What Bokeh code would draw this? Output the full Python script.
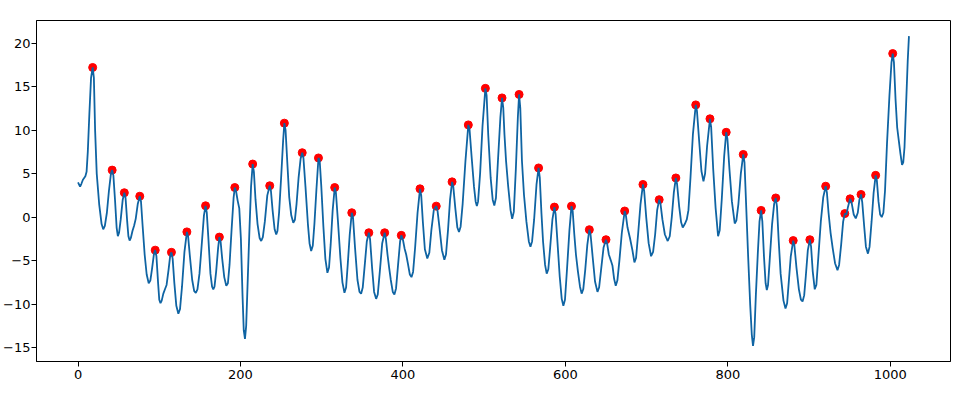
from bokeh.plotting import figure
from bokeh.models import FixedTicker, Range1d
from bokeh.embed import file_html
from bokeh.resources import INLINE

# signal samples (index, value)
sig_x = [0, 1, 2.5, 4, 6, 9, 10.5, 12, 14, 16, 18, 19.5, 21, 23, 26, 29, 31, 33, 35.5, 38, 40.5, 42,
         43.5, 45.5, 47.5, 49, 50.5, 52.5, 55, 57, 58.5, 60.5, 62, 63.5, 65, 67, 69, 71, 73.5, 76,
         77.5, 79.5, 82, 84.5, 87, 89, 91, 93.5, 95, 96.5, 98.5, 100, 101.5, 103, 105, 107, 109,
         111.5, 113.5, 115, 116.5, 118.5, 121, 123.5, 125.5, 128, 131, 134, 135.5, 137.5, 140.5,
         143, 145, 147, 149.5, 152, 155, 157, 158.5, 160.5, 163, 165, 166.5, 168, 170, 172.5, 174,
         175.5, 177.5, 180, 182.5, 184.5, 186.5, 189, 191.5, 193, 194.5, 196.5, 198.5, 200.5, 202.5,
         204, 205.5, 207, 209, 211, 213, 215, 216.5, 218.5, 221, 223.5, 225.5, 227.5, 230, 233, 236,
         237.5, 239.5, 242, 244, 245.5, 247.5, 250, 252.5, 254, 255.5, 257.5, 260, 262.5, 265, 267,
         269, 271.5, 274, 276, 277.5, 280, 283, 285, 287, 289, 291, 293.5, 296, 297.5, 299.5, 302,
         304.5, 307, 309, 311, 313.5, 316, 317.5, 320, 323, 325.5, 328, 330, 332, 334.5, 337, 338.5,
         341, 344, 346.5, 348.5, 350.5, 353, 355.5, 358, 359.5, 362, 364.5, 367, 369, 371.5, 374.5,
         377.5, 379, 381, 383, 385, 387.5, 389.5, 391.5, 394, 396.5, 398, 400, 402, 404, 406, 408.5,
         410.5, 412.5, 415, 418, 421, 422.5, 424.5, 427, 430, 432.5, 435, 438, 441, 442.5, 445, 448,
         451, 453, 455.5, 458, 460.5, 462, 464.5, 467, 469, 471, 473.5, 477, 480.5, 482, 484.5,
         487.5, 489.5, 491, 492.5, 495, 498, 501.5, 503, 505, 508, 510.5, 512.5, 514.5, 517, 520,
         522, 523.5, 525, 527, 529.5, 532.5, 534.5, 536.5, 539, 541.5, 543, 544.5, 546.5, 549, 552,
         555, 557, 559, 561.5, 564.5, 567, 568.5, 570.5, 572.5, 575, 577, 579, 581, 584, 586.5, 588,
         590, 593, 595.5, 597.5, 599.5, 602, 605, 607.5, 609, 611, 613, 615.5, 618, 620, 622, 624.5,
         627, 629.5, 631, 633.5, 636.5, 639.5, 641.5, 644, 647, 650, 651.5, 653.5, 656, 658, 660,
         662, 664, 666.5, 669.5, 673, 674.5, 676.5, 679.5, 682.5, 685, 687, 689.5, 692.5, 695.5, 697,
         699.5, 702.5, 705.5, 708, 710.5, 713, 715.5, 717, 719.5, 722.5, 726, 728.5, 731, 733.5, 736,
         737.5, 740, 742.5, 744.5, 747, 749.5, 751.5, 754, 757, 760.5, 762, 764.5, 767.5, 770, 772,
         774.5, 778, 779.5, 782, 785, 788, 790, 792.5, 795.5, 798, 799.5, 802, 805, 808.5, 810.5,
         813, 816, 819, 820.5, 822.5, 825, 827.5, 829.5, 831, 832.5, 834.5, 837, 839, 841, 842.5,
         844.5, 846.5, 848, 849.5, 851.5, 854.5, 857, 859, 860.5, 862.5, 865, 868.5, 871, 873, 875,
         877.5, 880.5, 882, 884.5, 887.5, 890, 892, 894, 896, 898.5, 901, 902.5, 904.5, 907, 909,
         911.5, 914.5, 917.5, 920.5, 922, 924, 926.5, 929, 932, 935, 937, 939.5, 942, 944, 946, 948,
         950.5, 952.5, 955, 957.5, 960, 962, 964, 965.5, 968, 970, 972.5, 974.5, 977, 979.5, 982,
         983.5, 985.5, 987.5, 989.5, 991.5, 993.5, 996, 999, 1001.5, 1003, 1004.5, 1006.5, 1008.5,
         1010.5, 1012.5, 1014.5, 1016, 1017.5, 1019.5, 1021.5, 1023]
sig_y = [4.0, 3.8, 3.5, 3.8, 4.3, 4.7, 5.2, 7.5, 12, 16, 17.2, 16, 10, 5, 1.5, -0.8, -1.4, -1.0, 0.5,
         3, 5, 5.4, 4.8, 2, -1.2, -2.2, -1.8, -0.3, 2, 2.8, 2.2, -0.5, -2.2, -2.7, -2.4, -1.6, -1.0,
         -0.2, 1.5, 2.4, 1.8, -1, -4.3, -6.6, -7.6, -7.3, -6, -4.2, -3.8, -4.5, -7.5, -9.5, -9.9,
         -9.6, -8.8, -8.3, -7.8, -6, -4.4, -4.05, -4.8, -7.5, -10.2, -11.1, -10.6, -8, -4, -1.7,
         -2.2, -4.3, -7.2, -8.5, -8.7, -8.3, -6.5, -3.5, 0.2, 1.3, 0.5, -2.5, -6.5, -8, -8.3, -8,
         -6.3, -3.5, -2.3, -2.8, -4.8, -6.9, -7.9, -7.6, -5.5, -1.5, 2.2, 3.4, 3.0, 1.9, 1.0, -2.5,
         -9, -13, -14.0, -12.5, -7, -1.5, 3.5, 6.1, 5.2, 2, -0.8, -2.4, -2.75, -2.3, -0.5, 2.5, 3.6,
         3, 0.8, -1.4, -2.0, -1.6, 0.5, 4.5, 8.8, 10.8, 10.0, 6.5, 2.3, 0.2, -0.65, -0.3, 1.5, 4.5,
         6.7, 7.4, 6.8, 3.5, -0.8, -3.0, -3.9, -3.3, -0.8, 3.2, 6.8, 6.5, 3.5, -1, -4.8, -6.4, -5.8,
         -3.2, 0.8, 3.4, 2.8, -0.5, -4.7, -7.5, -8.7, -8.1, -5.5, -2, 0.5, 0, -3.5, -7.2, -8.6, -8.8,
         -8.1, -5.5, -2.8, -1.8, -2.5, -5.8, -8.6, -9.4, -8.9, -6.3, -3, -1.8, -2.5, -4.3, -5.8,
         -7.2, -8.6, -8.9, -8.2, -5.5, -2.8, -2.1, -2.6, -3.6, -4.3, -5.3, -6.6, -6.9, -6.3, -3.5,
         0.5, 3.25, 2.5, -0.5, -3.7, -4.75, -4.1, -1.5, 0.8, 1.26, 0.8, -1.2, -3.8, -4.9, -4.3, -1.5,
         2, 4.05, 3.5, 1, -1.2, -1.7, -1.1, 1.5, 6.5, 10.6, 10.1, 7, 3.5, 1.8, 1.26, 1.8, 5, 10.5,
         14.8, 14.0, 9.5, 4.5, 2.0, 1.34, 2.2, 6.5, 11.5, 13.7, 12.6, 9.5, 6.4, 3.6, 0.8, -0.2, 0.6,
         5.5, 11.5, 14.1, 12.5, 6.5, 2.6, -0.5, -2.8, -3.4, -2.8, -0.3, 3.8, 5.65, 4.5, 0.5, -2.8,
         -5.5, -6.5, -6.0, -3.8, -0.3, 1.15, 0.3, -2.5, -6.8, -9.4, -10.2, -9.5, -6, -1.5, 1.26, 0.7,
         -2.0, -4.3, -6.3, -8.0, -8.8, -8.3, -6, -3.2, -1.45, -2.0, -4.5, -7.4, -8.6, -8.1, -6, -3.5,
         -2.6, -3.1, -4.3, -5.0, -5.6, -7.1, -7.9, -7.3, -5, -1.8, 0.7, 0.2, -1.2, -2.4, -3.8, -5.2,
         -4.7, -2, 1.5, 3.75, 3.0, 0, -3.0, -4.5, -4.0, -2, 0.8, 2.0, 1.6, -0.3, -2.0, -2.75, -2.2,
         0, 2.8, 4.5, 3.8, 1.3, -0.6, -1.2, -0.8, -0.27, 0.8, 4.5, 9.5, 12.9, 12.2, 9.0, 5.3, 4.1,
         5.0, 8.2, 11.3, 10.3, 5.5, 1.0, -2.2, -1.5, 2, 7, 9.75, 9.0, 5.5, 1.8, -0.73, -0.4, 1.5, 5,
         7.2, 6.3, 1.5, -4.5, -10, -13.5, -14.8, -13.8, -9, -4, -0.5, 0.77, -0.5, -4.5, -7.6, -8.4,
         -7.8, -5, -0.8, 1.5, 2.2, 1.2, -2.5, -6.5, -9.6, -10.5, -9.9, -7.5, -4.5, -2.7, -3.3, -5.8,
         -8.3, -9.5, -9.7, -9.0, -6.8, -3.8, -2.6, -3.4, -6.2, -8.3, -7.8, -4.5, -0.5, 2.3, 3.55,
         2.8, 0.5, -1.8, -3.5, -5.3, -6.1, -5.5, -3.2, -0.5, 0.4, 0.3, 1.2, 2.1, 1.6, 0.3, -0.15,
         0.5, 2.0, 2.6, 1.7, -1.2, -3.4, -4.2, -3.4, -0.5, 2.8, 4.8, 4.2, 1.8, 0.3, 0.0, 0.5, 3, 8.5,
         14, 17.8, 18.8, 17.8, 13.5, 10.3, 8.8, 7.3, 6.0, 6.3, 8, 13, 18, 20.8]

# detected peaks
peak_x = [18, 42, 57, 76, 95, 115, 134, 157, 174, 193, 215, 236, 254, 276, 296, 316, 337, 358,
          377.5, 398, 421, 441, 460.5, 480.5, 501.5, 522, 543, 567, 586.5, 607.5, 629.5, 650, 673,
          695.5, 715.5, 736, 760.5, 778, 798, 819, 841, 859, 880.5, 901, 920.5, 944, 950.5, 964,
          982, 1003]
peak_y = [17.2, 5.4, 2.8, 2.4, -3.8, -4.05, -1.7, 1.3, -2.3, 3.4, 6.1, 3.6, 10.8, 7.4, 6.8, 3.4,
          0.5, -1.8, -1.8, -2.1, 3.25, 1.26, 4.05, 10.6, 14.8, 13.7, 14.1, 5.65, 1.15, 1.26, -1.45,
          -2.6, 0.7, 3.75, 2.0, 4.5, 12.9, 11.3, 9.75, 7.2, 0.77, 2.2, -2.7, -2.6, 3.55, 0.4, 2.1,
          2.6, 4.8, 18.8]

x_ticks = [0, 200, 400, 600, 800, 1000]
y_ticks = [-15, -10, -5, 0, 5, 10, 15, 20]

p = figure(output_backend="svg", toolbar_location=None,
           frame_width=914, frame_height=341,
           min_border_left=27, min_border_right=15, min_border_top=20, min_border_bottom=29,
           x_range=Range1d(-51.15, 1074.15), y_range=Range1d(-16.6, 22.6))
p.background_fill_color = "white"
p.border_fill_color = "white"
p.outline_line_color = "black"
p.outline_line_width = 1
p.grid.visible = False

for ax in (p.xaxis[0], p.yaxis[0]):
    ax.major_tick_out = 5
    ax.major_tick_in = 0
    ax.minor_tick_out = 0
    ax.minor_tick_in = 0
    ax.axis_line_color = "black"
    ax.major_tick_line_color = "black"
    ax.major_label_text_font = "DejaVu Sans"
    ax.major_label_text_font_size = "13px"
    ax.major_label_text_color = "black"
p.xaxis[0].major_label_standoff = 3
p.yaxis[0].major_label_standoff = 1

p.xaxis[0].ticker = FixedTicker(ticks=x_ticks)
p.yaxis[0].ticker = FixedTicker(ticks=y_ticks)
p.yaxis[0].major_label_overrides = {float(t): (("\u2212" + str(abs(t))) if t < 0 else str(t)) for t in y_ticks}

p.scatter(peak_x, peak_y, size=8, marker="circle", fill_color="#ff0000", line_color="#ff0000")
p.line(sig_x, sig_y, line_color="#0f64a3", line_width=1.8)

open("out.html", "w").write(file_html(p, INLINE))
